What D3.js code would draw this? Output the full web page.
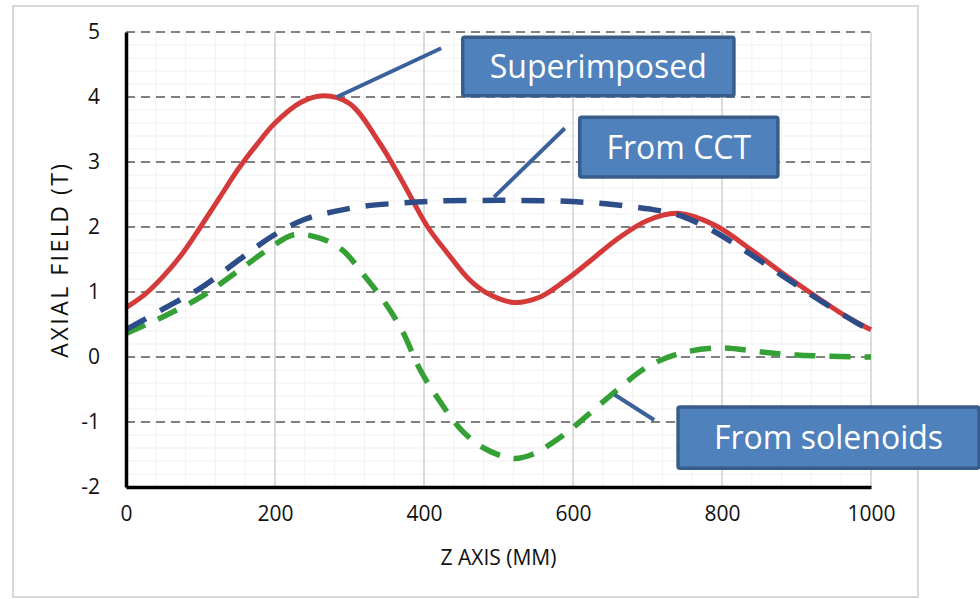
<!DOCTYPE html>
<html>
<head>
<meta charset="utf-8">
<script src="https://cdn.jsdelivr.net/npm/d3@7"></script>
<style>
  html, body { margin: 0; padding: 0; background: #fff; }
  svg { display: block; font-family: "Open Sans", "Noto Sans", sans-serif; }
</style>
</head>
<body>
<svg id="main-svg" width="980" height="599"></svg>
<script>
// values
var superZ = [0, 25, 50, 75, 100, 125, 150, 175, 200, 235, 265, 300, 340, 370, 405, 430, 460, 485, 520, 555, 590, 620, 660, 700, 740, 790, 840, 880, 930, 970, 1000]
var superB = [0.76, 0.96, 1.24, 1.58, 2.0, 2.44, 2.88, 3.26, 3.6, 3.92, 4.02, 3.9, 3.3, 2.72, 2.0, 1.62, 1.2, 0.98, 0.84, 0.92, 1.18, 1.45, 1.82, 2.1, 2.21, 2.03, 1.64, 1.3, 0.9, 0.6, 0.42]

var cctZ = [0, 50, 100, 150, 195, 240, 280, 320, 370, 420, 500, 580, 640, 700, 740, 785, 825, 880, 930, 970, 1000]
var cctB = [0.42, 0.74, 1.06, 1.48, 1.85, 2.12, 2.24, 2.32, 2.37, 2.4, 2.41, 2.4, 2.36, 2.28, 2.19, 1.96, 1.68, 1.26, 0.88, 0.6, 0.4]

var solZ = [0, 50, 100, 150, 190, 225, 260, 290, 320, 345, 370, 395, 420, 450, 480, 520, 545, 585, 615, 660, 700, 745, 800, 850, 900, 1000]
var solB = [0.36, 0.62, 0.92, 1.32, 1.65, 1.88, 1.83, 1.65, 1.25, 0.88, 0.42, -0.2, -0.66, -1.12, -1.4, -1.56, -1.5, -1.22, -0.94, -0.5, -0.15, 0.06, 0.14, 0.08, 0.03, 0.0]

var xTicks = [0, 200, 400, 600, 800, 1000]
var yTicks = [-2, -1, 0, 1, 2, 3, 4, 5]

// callouts, in data units (box corners + leader line ends)
var callouts = [
    {text: 'Superimposed', z0: 452, z1: 816, b0: 4.92, b1: 4.02, lz0: 283, lb0: 4.0, lz1: 423, lb1: 4.75},
    {text: 'From CCT', z0: 609, z1: 875, b0: 3.69, b1: 2.77, lz0: 494, lb0: 2.46, lz1: 589, lb1: 3.52},
    {text: 'From solenoids', z0: 741, z1: 1145, b0: -0.77, b1: -1.71, lz0: 656, lb0: -0.58, lz1: 709, lb1: -0.97}
]

var svg = d3.select('#main-svg')
var mLeft = 126, mTop = 32, w = 745, h = 455

// outer frame
svg.append('rect')
    .attr('x', 13).attr('y', 6).attr('width', 905).attr('height', 591)
    .attr('fill', 'none').attr('stroke', '#d9d9d9').attr('stroke-width', 2)

var x = d3.scaleLinear().domain([0, 1000]).range([mLeft, mLeft + w])
var y = d3.scaleLinear().domain([-2, 5]).range([mTop + h, mTop])

var g = svg.append('g')

// minor grid
g.selectAll('.minor-h').data(d3.range(-2, 5.001, 0.2)).enter().append('line')
    .attr('x1', mLeft).attr('x2', mLeft + w)
    .attr('y1', d => y(d)).attr('y2', d => y(d))
    .attr('stroke', '#efefef').attr('stroke-width', 1)
g.selectAll('.minor-v').data(d3.range(40, 1000, 40)).enter().append('line')
    .attr('x1', d => x(d)).attr('x2', d => x(d))
    .attr('y1', mTop).attr('y2', mTop + h)
    .attr('stroke', '#f2f2f2').attr('stroke-width', 1)

// major grid
g.selectAll('.major-v').data(xTicks.slice(1)).enter().append('line')
    .attr('x1', d => x(d)).attr('x2', d => x(d))
    .attr('y1', mTop).attr('y2', mTop + h)
    .attr('stroke', '#cbcbcb').attr('stroke-width', 1.3)
g.selectAll('.major-h').data(yTicks.slice(1)).enter().append('line')
    .attr('x1', mLeft).attr('x2', mLeft + w)
    .attr('y1', d => y(d)).attr('y2', d => y(d))
    .attr('stroke', '#808080').attr('stroke-width', 1.8)
    .attr('stroke-dasharray', '9,6')

// axes
var xAxis = svg.append('g').attr('transform', 'translate(0,' + (mTop + h) + ')')
    .call(d3.axisBottom(x).tickValues(xTicks).tickFormat(d => String(d)).tickSize(0).tickPadding(19))
var yAxis = svg.append('g').attr('transform', 'translate(' + mLeft + ',0)')
    .call(d3.axisLeft(y).tickValues(yTicks).tickFormat(d => String(d)).tickSize(0).tickPadding(26))
xAxis.select('.domain').attr('stroke', '#000').attr('stroke-width', 3.5)
yAxis.select('.domain').attr('stroke', '#000').attr('stroke-width', 3.5)
xAxis.selectAll('text').attr('font-size', 21).attr('fill', '#111').attr('font-family', '"Open Sans", sans-serif')
yAxis.selectAll('text').attr('font-size', 21).attr('fill', '#111').attr('font-family', '"Open Sans", sans-serif')

svg.append('text')
    .attr('x', x(500)).attr('y', 565)
    .attr('text-anchor', 'middle').attr('font-size', 21).attr('fill', '#111')
    .text('Z AXIS (MM)')
svg.append('text')
    .attr('transform', 'translate(68,' + y(1.5) + ') rotate(-90)')
    .attr('text-anchor', 'middle').attr('font-size', 23).attr('fill', '#111')
    .attr('letter-spacing', 2.5)
    .text('AXIAL FIELD (T)')

// curves
var line = d3.line().x(d => x(d[0])).y(d => y(d[1])).curve(d3.curveCatmullRom.alpha(0.5))

g.append('path').datum(d3.zip(solZ, solB))
    .attr('d', line).attr('fill', 'none')
    .attr('stroke', '#35a035').attr('stroke-width', 5.5)
    .attr('stroke-dasharray', '21,14')
g.append('path').datum(d3.zip(superZ, superB))
    .attr('d', line).attr('fill', 'none')
    .attr('stroke', '#d43a3a').attr('stroke-width', 5)
g.append('path').datum(d3.zip(cctZ, cctB))
    .attr('d', line).attr('fill', 'none')
    .attr('stroke', '#2d4d88').attr('stroke-width', 5.5)
    .attr('stroke-dasharray', '23,16')

// callouts
var c = svg.selectAll('.callout').data(callouts).enter().append('g')
c.append('line')
    .attr('x1', d => x(d.lz0)).attr('y1', d => y(d.lb0))
    .attr('x2', d => x(d.lz1)).attr('y2', d => y(d.lb1))
    .attr('stroke', '#3b619a').attr('stroke-width', 4)
c.append('rect')
    .attr('x', d => x(d.z0)).attr('y', d => y(d.b0))
    .attr('width', d => x(d.z1) - x(d.z0)).attr('height', d => y(d.b1) - y(d.b0))
    .attr('rx', 2)
    .attr('fill', '#4f81bd').attr('stroke', '#385d8a').attr('stroke-width', 3.5)
c.append('text')
    .attr('x', d => (x(d.z0) + x(d.z1)) / 2)
    .attr('y', d => (y(d.b0) + y(d.b1)) / 2)
    .attr('dy', '0.36em')
    .attr('text-anchor', 'middle').attr('font-size', 32).attr('fill', '#fff')
    .text(d => d.text)
</script>
</body>
</html>
